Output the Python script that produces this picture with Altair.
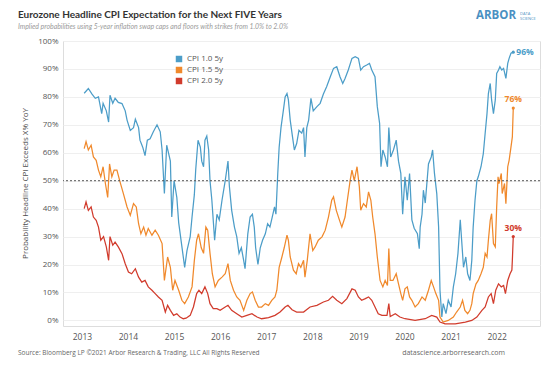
import altair as alt
import pandas as pd

# ---- data (decimal years on the chart's year axis, probability in %) ----
series_names = ["CPI 1.0 5y", "CPI 1.5 5y", "CPI 2.0 5y"]
series_colors = ["#4C9DC8", "#F0892C", "#D13B2C"]
year_ticks = list(range(2013, 2023))
pct_ticks = list(range(0, 101, 10))

blue_t = [2013.05, 2013.14, 2013.22, 2013.29, 2013.36, 2013.43, 2013.46, 2013.53, 2013.58, 2013.61,
          2013.67, 2013.72, 2013.79, 2013.87, 2013.94, 2013.98, 2014.05, 2014.12, 2014.16, 2014.23,
          2014.26, 2014.32, 2014.37, 2014.42, 2014.48, 2014.55, 2014.63, 2014.70, 2014.74, 2014.79,
          2014.84, 2014.92, 2014.95, 2015.00, 2015.06, 2015.10, 2015.23, 2015.28, 2015.35, 2015.39,
          2015.44, 2015.47, 2015.52, 2015.57, 2015.60, 2015.64, 2015.67, 2015.71, 2015.75, 2015.78,
          2015.82, 2015.88, 2015.93, 2015.98, 2016.04, 2016.11, 2016.17, 2016.20, 2016.25, 2016.31,
          2016.36, 2016.41, 2016.46, 2016.51, 2016.54, 2016.60, 2016.65, 2016.70, 2016.74, 2016.77,
          2016.82, 2016.87, 2016.92, 2016.98, 2017.03, 2017.08, 2017.13, 2017.18, 2017.21, 2017.25,
          2017.28, 2017.32, 2017.37, 2017.41, 2017.45, 2017.48, 2017.52, 2017.57, 2017.61, 2017.66,
          2017.71, 2017.77, 2017.81, 2017.84, 2017.88, 2017.92, 2017.97, 2018.02, 2018.10, 2018.17,
          2018.24, 2018.31, 2018.39, 2018.46, 2018.53, 2018.60, 2018.66, 2018.71, 2018.78, 2018.86,
          2018.93, 2019.00, 2019.05, 2019.11, 2019.18, 2019.24, 2019.29, 2019.36, 2019.41, 2019.46,
          2019.49, 2019.53, 2019.58, 2019.63, 2019.66, 2019.70, 2019.76, 2019.82, 2019.87, 2019.92,
          2019.96, 2020.01, 2020.06, 2020.11, 2020.16, 2020.21, 2020.28, 2020.32, 2020.34, 2020.38,
          2020.41, 2020.45, 2020.49, 2020.52, 2020.58, 2020.61, 2020.65, 2020.70, 2020.74, 2020.77,
          2020.81, 2020.84, 2020.90, 2020.95, 2021.01, 2021.06, 2021.11, 2021.16, 2021.21, 2021.24,
          2021.28, 2021.33, 2021.37, 2021.42, 2021.46, 2021.49, 2021.53, 2021.57, 2021.60, 2021.66,
          2021.71, 2021.75, 2021.79, 2021.82, 2021.86, 2021.89, 2021.93, 2021.97, 2022.00, 2022.04,
          2022.07, 2022.11, 2022.15, 2022.20, 2022.24, 2022.27, 2022.31, 2022.36]
blue_v = [81.3, 83.0, 81.0, 79.5, 80.0, 74.0, 77.7, 75.0, 71.0, 80.6,
          77.7, 79.5, 78.0, 77.6, 75.0, 71.7, 68.0, 69.0, 72.0, 69.0,
          64.5, 62.0, 59.0, 64.5, 65.0, 67.5, 70.0, 67.5, 61.0, 45.4,
          62.7, 57.0, 37.0, 50.0, 44.0, 35.0, 19.0, 25.0, 30.0, 37.0,
          45.0, 54.0, 64.5, 62.0, 57.0, 55.0, 64.5, 66.0, 61.0, 50.0,
          43.0, 28.7, 38.0, 36.0, 43.0, 50.0, 57.0, 48.0, 39.4, 33.4,
          30.0, 24.0, 26.0, 21.5, 18.5, 31.0, 37.0, 38.0, 33.4, 26.0,
          20.0, 26.0, 28.7, 31.0, 34.6, 33.4, 37.0, 40.6, 38.0, 52.6,
          62.0, 69.0, 75.0, 80.0, 81.2, 79.0, 71.7, 65.7, 61.0, 63.3,
          68.0, 67.0, 69.0, 58.5, 69.0, 71.7, 79.5, 75.0, 76.5, 77.7,
          81.0, 83.6, 87.2, 90.2, 90.8, 87.2, 84.8, 86.6, 89.6, 93.8,
          94.4, 93.8, 89.6, 90.8, 91.4, 92.0, 89.6, 87.2, 76.5, 70.5,
          55.0, 61.0, 58.5, 55.0, 69.0, 58.5, 61.0, 64.5, 57.0, 52.6,
          38.0, 51.4, 43.0, 52.6, 36.0, 33.0, 31.0, 25.7, 33.4, 38.0,
          46.6, 42.0, 50.0, 56.0, 58.5, 61.0, 52.6, 45.4, 33.4, 10.8,
          1.2, 6.0, 2.4, 7.2, 4.8, 12.0, 16.7, 24.0, 36.0, 28.7,
          19.0, 22.7, 16.7, 14.3, 21.5, 33.4, 43.0, 50.0, 51.4, 55.0,
          59.7, 67.0, 74.0, 81.2, 84.8, 78.9, 74.0, 78.9, 88.4, 89.6,
          90.8, 89.6, 90.2, 86.6, 92.0, 93.8, 95.6, 96.0]

orange_t = [2013.05, 2013.09, 2013.14, 2013.20, 2013.25, 2013.31, 2013.36, 2013.41, 2013.46, 2013.51,
            2013.56, 2013.60, 2013.65, 2013.70, 2013.76, 2013.82, 2013.90, 2013.98, 2014.05, 2014.12,
            2014.18, 2014.23, 2014.28, 2014.34, 2014.39, 2014.44, 2014.52, 2014.59, 2014.66, 2014.74,
            2014.79, 2014.86, 2014.92, 2014.97, 2015.02, 2015.10, 2015.17, 2015.23, 2015.31, 2015.39,
            2015.44, 2015.49, 2015.53, 2015.59, 2015.64, 2015.69, 2015.73, 2015.78, 2015.83, 2015.89,
            2015.96, 2016.04, 2016.11, 2016.17, 2016.22, 2016.29, 2016.36, 2016.43, 2016.51, 2016.58,
            2016.65, 2016.70, 2016.76, 2016.83, 2016.90, 2016.98, 2017.05, 2017.12, 2017.19, 2017.23,
            2017.28, 2017.34, 2017.39, 2017.45, 2017.48, 2017.52, 2017.59, 2017.65, 2017.70, 2017.75,
            2017.81, 2017.84, 2017.89, 2017.95, 2018.01, 2018.06, 2018.13, 2018.21, 2018.28, 2018.35,
            2018.42, 2018.46, 2018.52, 2018.59, 2018.64, 2018.71, 2018.76, 2018.82, 2018.86, 2018.91,
            2018.97, 2019.02, 2019.05, 2019.11, 2019.17, 2019.22, 2019.27, 2019.31, 2019.36, 2019.41,
            2019.47, 2019.53, 2019.58, 2019.63, 2019.66, 2019.69, 2019.75, 2019.82, 2019.87, 2019.92,
            2019.96, 2020.01, 2020.06, 2020.11, 2020.16, 2020.23, 2020.30, 2020.38, 2020.45, 2020.52,
            2020.58, 2020.63, 2020.68, 2020.74, 2020.77, 2020.84, 2020.95, 2021.06, 2021.13, 2021.21,
            2021.26, 2021.31, 2021.37, 2021.42, 2021.46, 2021.49, 2021.55, 2021.60, 2021.66, 2021.71,
            2021.75, 2021.79, 2021.82, 2021.86, 2021.89, 2021.93, 2021.97, 2022.00, 2022.03, 2022.05,
            2022.10, 2022.12, 2022.17, 2022.20, 2022.24, 2022.27, 2022.31, 2022.34, 2022.36]
orange_v = [61.5, 64.0, 61.0, 62.7, 58.5, 57.3, 53.8, 51.4, 55.0, 49.0,
            44.0, 56.0, 51.4, 53.8, 53.8, 50.0, 45.4, 40.6, 37.6, 41.8,
            40.6, 34.6, 31.0, 33.4, 30.5, 32.9, 30.5, 32.3, 30.5, 27.5,
            14.3, 22.7, 19.0, 10.8, 14.3, 10.8, 7.2, 6.0, 8.4, 12.0,
            21.5, 28.7, 31.0, 26.0, 24.0, 33.4, 32.3, 24.0, 16.7, 12.0,
            14.3, 15.5, 16.7, 20.3, 14.3, 10.8, 8.4, 7.2, 3.6, 7.2,
            9.6, 10.2, 7.2, 4.8, 4.8, 6.0, 5.4, 7.2, 8.4, 10.8,
            19.0, 22.7, 26.0, 30.5, 28.7, 22.7, 18.0, 16.7, 20.3, 19.0,
            21.5, 15.5, 21.5, 31.0, 25.0, 26.3, 28.7, 29.9, 32.3, 37.0,
            43.0, 44.2, 39.4, 35.8, 33.4, 37.0, 43.0, 50.0, 53.8, 50.0,
            55.0, 47.8, 39.4, 41.8, 40.6, 46.0, 43.0, 37.0, 31.0, 22.7,
            14.3, 12.0, 14.3, 12.5, 25.7, 14.3, 14.3, 16.7, 13.1, 9.6,
            7.2, 11.3, 12.0, 8.4, 7.2, 4.8, 6.0, 8.4, 7.2, 10.8,
            14.3, 12.0, 9.6, 7.2, 1.2, -0.6, 0.0, 1.2, 3.0, 4.8,
            7.2, 3.6, 2.4, 3.6, 6.0, 9.6, 13.0, 14.3, 16.7, 19.0,
            24.0, 22.7, 28.7, 35.8, 38.2, 27.5, 26.3, 40.6, 51.4, 49.0,
            52.6, 45.4, 49.0, 41.8, 55.0, 57.3, 62.0, 65.7, 76.0]

red_t = [2013.05, 2013.09, 2013.14, 2013.20, 2013.25, 2013.31, 2013.36, 2013.41, 2013.47, 2013.53,
         2013.58, 2013.61, 2013.67, 2013.72, 2013.79, 2013.87, 2013.94, 2014.01, 2014.08, 2014.16,
         2014.23, 2014.30, 2014.37, 2014.44, 2014.52, 2014.59, 2014.66, 2014.74, 2014.81, 2014.86,
         2014.92, 2014.99, 2015.06, 2015.13, 2015.20, 2015.26, 2015.35, 2015.42, 2015.49, 2015.54,
         2015.60, 2015.67, 2015.73, 2015.78, 2015.85, 2015.93, 2016.00, 2016.11, 2016.17, 2016.25,
         2016.36, 2016.47, 2016.58, 2016.69, 2016.80, 2016.90, 2017.05, 2017.19, 2017.30, 2017.41,
         2017.47, 2017.56, 2017.66, 2017.81, 2017.95, 2018.10, 2018.24, 2018.35, 2018.44, 2018.53,
         2018.64, 2018.75, 2018.86, 2018.93, 2019.00, 2019.07, 2019.15, 2019.22, 2019.29, 2019.36,
         2019.43, 2019.51, 2019.62, 2019.66, 2019.69, 2019.80, 2019.90, 2020.01, 2020.23, 2020.45,
         2020.59, 2020.70, 2020.77, 2020.88, 2021.10, 2021.32, 2021.46, 2021.57, 2021.68, 2021.75,
         2021.82, 2021.88, 2021.93, 2021.98, 2022.04, 2022.10, 2022.15, 2022.19, 2022.24, 2022.29,
         2022.33, 2022.34, 2022.36]
red_v = [40.0, 42.4, 39.4, 40.6, 37.0, 35.8, 33.4, 28.7, 30.0, 26.3,
         21.5, 30.0, 26.9, 28.0, 26.3, 23.9, 20.3, 17.3, 16.7, 18.5,
         15.5, 13.7, 14.3, 12.0, 10.8, 9.6, 8.4, 7.2, 3.0, 5.4,
         3.6, 1.8, 2.4, 1.2, 0.6, 0.8, 1.8, 4.8, 9.6, 10.8,
         9.6, 12.0, 9.6, 6.0, 4.2, 4.2, 3.6, 4.8, 5.4, 3.6,
         2.4, 1.2, 1.8, 2.4, 1.2, 0.6, 1.0, 1.8, 3.0, 4.8,
         5.4, 3.8, 3.0, 3.0, 4.8, 5.4, 6.6, 7.2, 8.6, 7.2,
         6.0, 7.8, 11.3, 10.8, 8.4, 7.2, 7.8, 8.4, 7.2, 4.8,
         2.4, 1.8, 1.8, 6.0, 1.4, 2.4, 1.2, 0.6, 0.0, 0.6,
         1.8, 1.2, -0.6, -1.2, -1.2, -0.6, 0.0, 1.2, 3.6, 4.8,
         8.4, 9.6, 6.0, 10.8, 13.1, 12.0, 12.5, 9.6, 14.3, 16.7,
         18.0, 21.5, 30.0]

title_text = "Eurozone Headline CPI Expectation for the Next FIVE Years"
subtitle_text = ("Implied probabilities using 5-year inflation swap caps and floors "
                 "with strikes from 1.0% to 2.0%")
source_text = "Source: Bloomberg LP  \u00a92021 Arbor Research & Trading, LLC   All Rights Reserved"
site_text = "datascience.arborresearch.com"
logo_texts = ["ARBOR", "DATA", "SCIENCE"]

# ---- tables built from the arrays ----
frames = []
for name, ts, vs in [(series_names[0], blue_t, blue_v),
                     (series_names[1], orange_t, orange_v),
                     (series_names[2], red_t, red_v)]:
    frames.append(pd.DataFrame({"t": ts, "v": vs, "series": name}))
df = pd.concat(frames, ignore_index=True)

last = df.groupby("series", as_index=False).last()
last["label"] = last["v"].round(0).astype(int).astype(str) + "%"

FONT = "Open Sans"
TFONT = "Lato"
W, H = 477, 285
x_dom = [2012.59, 2022.94]
y_dom = [-2, 100]

color = alt.Color("series:N",
                  scale=alt.Scale(domain=series_names, range=series_colors),
                  legend=alt.Legend(title=None, orient="none", legendX=112, legendY=14,
                                    symbolType="square", symbolSize=42, symbolStrokeWidth=0,
                                    labelFontSize=8, labelColor="#555555", labelFont=FONT,
                                    rowPadding=3, labelOffset=4))

xaxis = alt.Axis(values=year_ticks, format="d", title=None, grid=False, domain=False,
                 ticks=False, labelPadding=6, labelFontSize=8.5, labelColor="#555555",
                 labelFont=FONT, labelOverlap=False)
yaxis = alt.Axis(values=pct_ticks, labelExpr="datum.value + '%'",
                 title="Probability Headline CPI Exceeds X% YoY",
                 titleFontSize=8, titleFontWeight="normal", titleColor="#4d4d4d",
                 titleFont=FONT, titleX=-38, titleY=142, titleBaseline="middle",
                 titleAlign="center", grid=True, gridColor="#efefef", domain=False,
                 ticks=False, labelPadding=5, labelFontSize=8, labelColor="#555555",
                 labelFont=FONT, labelOverlap=False)
xs = alt.Scale(domain=x_dom, nice=False, zero=False)
ys = alt.Scale(domain=y_dom, nice=False, zero=False)

lines = alt.Chart(df).mark_line(strokeWidth=1.25, clip=True).encode(
    x=alt.X("t:Q", scale=xs, axis=xaxis),
    y=alt.Y("v:Q", scale=ys, axis=yaxis),
    color=color, detail="series:N")

ref = alt.Chart(pd.DataFrame({"v": [50]})).mark_rule(
    color="#555555", strokeDash=[2, 2], strokeWidth=1).encode(
    y=alt.Y("v:Q", scale=ys, axis=yaxis))

dots = alt.Chart(last).mark_circle(size=10, opacity=1).encode(
    x=alt.X("t:Q", scale=xs, axis=xaxis), y=alt.Y("v:Q", scale=ys, axis=yaxis),
    color=alt.Color("series:N", legend=None))

lab_right = alt.Chart(last).transform_filter(
    alt.datum.series == series_names[0]).mark_text(
    align="left", baseline="middle", dx=3, fontSize=8.5, font=FONT, fontWeight="bold").encode(
    x=alt.X("t:Q", scale=xs, axis=xaxis), y=alt.Y("v:Q", scale=ys, axis=yaxis),
    text="label:N", color=alt.Color("series:N", legend=None))

lab_top = alt.Chart(last).transform_filter(
    alt.datum.series != series_names[0]).mark_text(
    align="center", baseline="bottom", dy=-4, fontSize=8.5, font=FONT, fontWeight="bold").encode(
    x=alt.X("t:Q", scale=xs, axis=xaxis), y=alt.Y("v:Q", scale=ys, axis=yaxis),
    text="label:N", color=alt.Color("series:N", legend=None))


def note(txt, x, y, **kw):
    return alt.Chart(pd.DataFrame({"txt": [txt]})).mark_text(baseline="middle", **kw).encode(
        x=alt.value(x), y=alt.value(y), text="txt:N")


title = note(title_text, -45, -26.5, align="left", fontSize=10, font=TFONT, fontWeight="bold",
             color="#333333")
subtitle = note(subtitle_text, -45, -14, align="left", fontSize=6.9, font=TFONT,
                fontStyle="italic", color="#9a9a9a")
src = note(source_text, -45, 312, align="left", fontSize=6.5, color="#666666", font=FONT)
site = note(site_text, 442, 312, align="right", fontSize=7, color="#666666", font=FONT)
logo = note(logo_texts[0], 413, -25, align="left", fontSize=11.5, color="#4A90C2", font=FONT,
            fontWeight="bold")
logo2 = note(logo_texts[1], 457, -27.5, align="left", fontSize=4, color="#4A90C2", font=FONT)
logo3 = note(logo_texts[2], 457, -22.5, align="left", fontSize=4, color="#4A90C2", font=FONT)

chart = alt.layer(lines, ref, dots, lab_right, lab_top, title, subtitle, src, site,
                  logo, logo2, logo3).properties(
    width=W, height=H,
    autosize=alt.AutoSizeParams(type="none"),
    padding={"left": 55, "top": 33, "right": 6, "bottom": 32},
).configure_view(stroke=None).configure(background="white")

chart.save("out.html", embed_options={"renderer": "svg", "actions": False})
